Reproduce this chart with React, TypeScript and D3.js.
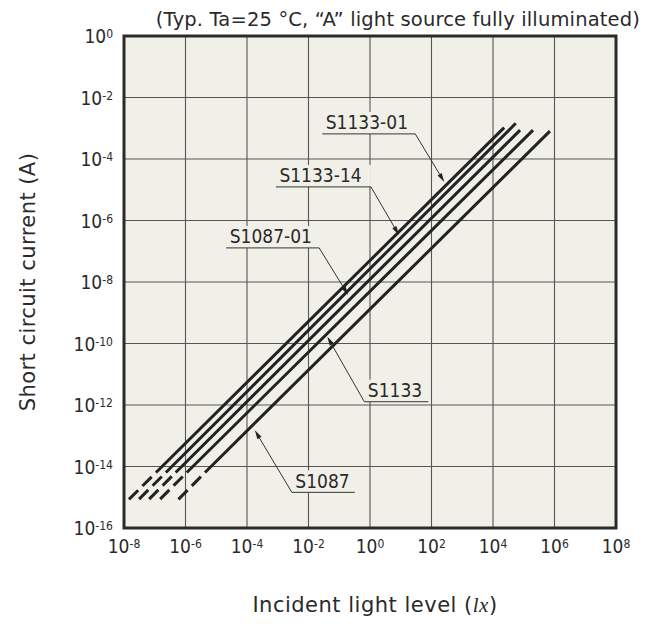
import * as React from "react";
import * as d3 from "d3";

// series (lux, ampere)
const seriesNames = ["S1133-01", "S1133-14", "S1087-01", "S1133", "S1087"];
const startLux = [1.45e-8, 3.1e-8, 6.6e-8, 1.5e-7, 5.9e-7];
const startCurrent = [8.5e-16, 8.7e-16, 8.7e-16, 8.7e-16, 8.5e-16];
const solidLux = [1.1e-7, 2.3e-7, 4.8e-7, 1.1e-6, 4.3e-6];
const solidCurrent = [6.4e-15, 6.4e-15, 6.4e-15, 6.4e-15, 6.4e-15];
const endLux = [2.3e4, 5.5e4, 7.6e4, 2.0e5, 7.1e5];
const endCurrent = [1.05e-3, 1.45e-3, 8.7e-4, 8.7e-4, 8.1e-4];

// where each label's arrow touches its line
const arrowLux = [2.6e2, 8.7, 0.195, 0.041, 1.8e-4];
const arrowCurrent = [1.8e-5, 3.4e-7, 3.8e-9, 1.66e-10, 1.5e-13];

const xTickExponents = [-8, -6, -4, -2, 0, 2, 4, 6, 8];
const yTickExponents = [-16, -14, -12, -10, -8, -6, -4, -2, 0];

const titleText = "(Typ. Ta=25 \u00B0C, \u201CA\u201D light source fully illuminated)";
const yTitle = "Short circuit current (A)";

// label layout (pixels relative to arrow tip)
const labelLayout = [
    { dx: -29, dy: -48, side: "left", len: 93 },
    { dx: -28, dy: -48, side: "left", len: 95 },
    { dx: -29, dy: -47, side: "left", len: 93 },
    { dx: 37, dy: 65, side: "right", len: 64 },
    { dx: 37, dy: 62, side: "right", len: 63 },
];

const W = 645, H = 630;
const plot = { left: 124, right: 616, top: 36, bottom: 528 };
const plotBg = "#f1f0e8";
const ink = "#222";
const font = "'DejaVu Sans Condensed', 'DejaVu Sans', sans-serif";
const wideFont = "'DejaVu Sans', sans-serif";

export default function App() {
    const x = d3.scaleLog().domain([1e-8, 1e8]).range([plot.left, plot.right]);
    const y = d3.scaleLog().domain([1e-16, 1]).range([plot.bottom, plot.top]);

    const line = d3.line<[number, number]>()
        .x(d => x(d[0]))
        .y(d => y(d[1]));

    const grid = (
        <g stroke="#555" strokeWidth={1.1}>
            {xTickExponents.slice(1, -1).map(e => (
                <line key={"gx" + e} x1={x(Math.pow(10, e))} x2={x(Math.pow(10, e))} y1={plot.top} y2={plot.bottom} />
            ))}
            {yTickExponents.slice(1, -1).map(e => (
                <line key={"gy" + e} y1={y(Math.pow(10, e))} y2={y(Math.pow(10, e))} x1={plot.left} x2={plot.right} />
            ))}
        </g>
    );

    const seriesPaths = seriesNames.map((name, i) => (
        <g key={name}>
            <path d={line([[startLux[i], startCurrent[i]], [solidLux[i], solidCurrent[i]]]) || ""}
                stroke={ink} strokeWidth={3} fill="none" strokeDasharray="13,6" />
            <path d={line([[solidLux[i], solidCurrent[i]], [endLux[i], endCurrent[i]]]) || ""}
                stroke={ink} strokeWidth={3} fill="none" />
        </g>
    ));

    const labels = seriesNames.map((name, i) => {
        const tx = x(arrowLux[i]);
        const ty = y(arrowCurrent[i]);
        const l = labelLayout[i];
        const ex = tx + l.dx;
        const ey = ty + l.dy;
        const u1 = l.side === "left" ? ex - l.len : ex;
        const u2 = l.side === "left" ? ex : ex + l.len;
        // arrow head
        const ang = Math.atan2(ty - ey, tx - ex);
        const hl = 9, hw = 2.4;
        const bx = tx - hl * Math.cos(ang), by = ty - hl * Math.sin(ang);
        const px = -Math.sin(ang) * hw, py = Math.cos(ang) * hw;
        const head = `${tx},${ty} ${bx + px},${by + py} ${bx - px},${by - py}`;
        return (
            <g key={"lab" + name}>
                <rect x={u1} y={ey - 22} width={u2 - u1} height={22} fill={plotBg} />
                <text x={u1 + 3.5} y={ey - 4.6} fontFamily={font} fontSize={19} fill="#2a2a2a">{name}</text>
                <line x1={u1} x2={u2} y1={ey} y2={ey} stroke="#333" strokeWidth={1} />
                <line x1={ex} y1={ey} x2={bx} y2={by} stroke="#333" strokeWidth={1} />
                <polygon points={head} fill="#222" />
            </g>
        );
    });

    return (
        <svg width={W} height={H} style={{ position: "absolute", left: 0, top: 0, background: "#fff" }}>
            <rect x={plot.left} y={plot.top} width={plot.right - plot.left} height={plot.bottom - plot.top} fill={plotBg} />
            {grid}
            {seriesPaths}
            {labels}
            <rect x={plot.left} y={plot.top} width={plot.right - plot.left} height={plot.bottom - plot.top}
                fill="none" stroke="#2b2b2b" strokeWidth={3} />

            {xTickExponents.map(e => (
                <text key={"tx" + e} x={x(Math.pow(10, e))} y={plot.bottom + 25} textAnchor="middle"
                    fontFamily={font} fontSize={19} fill="#2a2a2a">
                    10<tspan dy={-5} fontSize={12}>{e}</tspan>
                </text>
            ))}
            {yTickExponents.map(e => (
                <text key={"ty" + e} x={plot.left - 11} y={y(Math.pow(10, e)) + 7} textAnchor="end"
                    fontFamily={font} fontSize={19} fill="#2a2a2a">
                    10<tspan dy={-5} fontSize={12}>{e}</tspan>
                </text>
            ))}

            <text x={640} y={26} textAnchor="end" fontFamily={wideFont} fontSize={19.5} letterSpacing={0.15} fill="#2a2a2a">{titleText}</text>
            <text transform={`translate(35,${(plot.top + plot.bottom) / 2}) rotate(-90)`} textAnchor="middle"
                fontFamily={wideFont} fontSize={21} letterSpacing={0.45} fill="#2a2a2a">{yTitle}</text>
            <text x={375} y={612} textAnchor="middle" fontFamily={wideFont} fontSize={21} letterSpacing={0.5} fill="#2a2a2a">
                Incident light level (<tspan fontFamily="'Liberation Serif', serif" fontStyle="italic">lx</tspan>)
            </text>
        </svg>
    );
}
